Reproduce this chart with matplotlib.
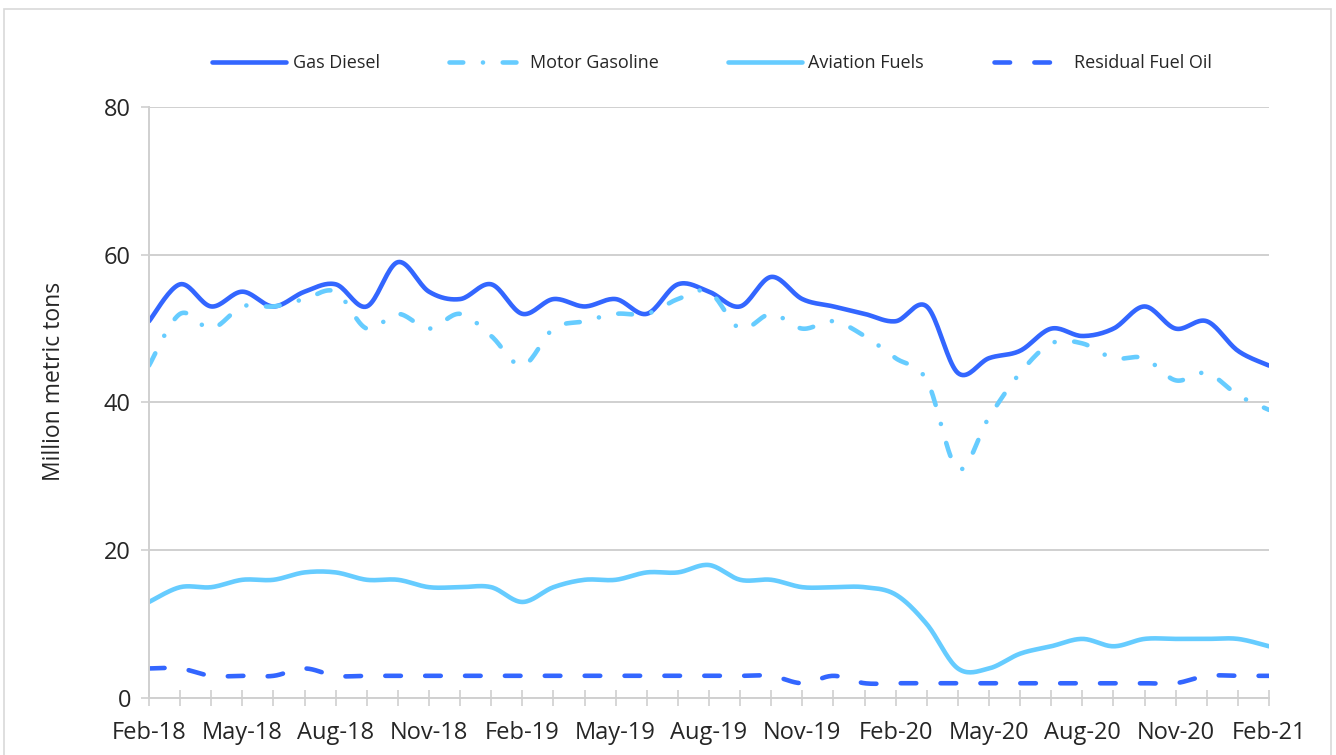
import numpy as np
import matplotlib
matplotlib.use("Agg")
import matplotlib.pyplot as plt
from matplotlib.patches import Rectangle

plt.rcParams['font.family'] = ['Open Sans', 'DejaVu Sans']

months = ["Feb-18", "Mar-18", "Apr-18", "May-18", "Jun-18", "Jul-18", "Aug-18", "Sep-18",
          "Oct-18", "Nov-18", "Dec-18", "Jan-19", "Feb-19", "Mar-19", "Apr-19", "May-19",
          "Jun-19", "Jul-19", "Aug-19", "Sep-19", "Oct-19", "Nov-19", "Dec-19", "Jan-20",
          "Feb-20", "Mar-20", "Apr-20", "May-20", "Jun-20", "Jul-20", "Aug-20", "Sep-20",
          "Oct-20", "Nov-20", "Dec-20", "Jan-21", "Feb-21"]

gas_diesel = [51, 56, 53, 55, 53, 55, 56, 53, 59, 55, 54, 56, 52, 54, 53, 54, 52, 56, 55,
              53, 57, 54, 53, 52, 51, 53, 44, 46, 47, 50, 49, 50, 53, 50, 51, 47, 45]
motor_gasoline = [45, 52, 50, 53, 53, 54, 55, 50, 52, 50, 52, 49, 45, 50, 51, 52, 52, 54, 55,
                  50, 52, 50, 51, 49, 46, 43, 31, 38, 44, 48, 48, 46, 46, 43, 44, 41, 39]
aviation_fuels = [13, 15, 15, 16, 16, 17, 17, 16, 16, 15, 15, 15, 13, 15, 16, 16, 17, 17, 18,
                  16, 16, 15, 15, 15, 14, 10, 4, 4, 6, 7, 8, 7, 8, 8, 8, 8, 7]
residual_fuel_oil = [4, 4, 3, 3, 3, 4, 3, 3, 3, 3, 3, 3, 3, 3, 3, 3, 3, 3, 3,
                     3, 3, 2, 3, 2, 2, 2, 2, 2, 2, 2, 2, 2, 2, 2, 3, 3, 3]

BLUE = "#3366FF"
LIGHT = "#66CCFF"
GRID = "#D0D0D0"
TXT = "#262626"


# Excel-like smoothed line: cubic bezier through each point (Catmull-Rom tangents)
def smooth(y, n=20):
    y = np.asarray(y, dtype=float)
    x = np.arange(len(y), dtype=float)
    xs, ys = [], []
    for i in range(len(y) - 1):
        i0, i3 = max(i - 1, 0), min(i + 2, len(y) - 1)
        c1x = x[i] + (x[i + 1] - x[i0]) / 6
        c1y = y[i] + (y[i + 1] - y[i0]) / 6
        c2x = x[i + 1] - (x[i3] - x[i]) / 6
        c2y = y[i + 1] - (y[i3] - y[i]) / 6
        t = np.linspace(0, 1, n, endpoint=(i == len(y) - 2))
        a, b, c, d = (1 - t) ** 3, 3 * (1 - t) ** 2 * t, 3 * (1 - t) * t ** 2, t ** 3
        xs.append(a * x[i] + b * c1x + c * c2x + d * x[i + 1])
        ys.append(a * y[i] + b * c1y + c * c2y + d * y[i + 1])
    return np.concatenate(xs), np.concatenate(ys)


fig = plt.figure(figsize=(13.36, 7.55), dpi=100)
ax = fig.add_axes([149 / 1336, 1 - 698 / 755, 1120 / 1336, 591 / 755])

lw = 3.3
series = [
    ("Gas Diesel", gas_diesel, BLUE, "-"),
    ("Motor Gasoline", motor_gasoline, LIGHT, (0, (3.0, 4.3, 0.01, 4.3))),
    ("Aviation Fuels", aviation_fuels, LIGHT, "-"),
    ("Residual Fuel Oil", residual_fuel_oil, BLUE, (0, (3.4, 5.3))),
]
for name, vals, col, ls in series:
    sx, sy = smooth(vals)
    ax.plot(sx, sy, color=col, lw=lw, ls=ls, label=name,
            dash_capstyle="round", solid_capstyle="round", solid_joinstyle="round")

ax.set_xlim(0, len(months) - 1)
ax.set_ylim(0, 80)
ax.set_yticks(range(0, 81, 20))
ax.set_xticks(range(len(months)))
ax.set_xticklabels([m if i % 3 == 0 else "" for i, m in enumerate(months)])
ax.yaxis.grid(True, color=GRID, lw=1.4)
ax.set_axisbelow(True)
for s in ["top", "right"]:
    ax.spines[s].set_visible(False)
for s in ["left", "bottom"]:
    ax.spines[s].set_color(GRID)
    ax.spines[s].set_linewidth(1.4)
ax.tick_params(axis="x", direction="inout", length=11, width=1.2, color=GRID,
               labelsize=17, labelcolor=TXT, pad=11)
ax.tick_params(axis="y", direction="out", length=6, width=1.2, color=GRID,
               labelsize=17, labelcolor=TXT, pad=7)
ax.set_ylabel("Million metric tons", fontsize=16.5, color=TXT)
ax.yaxis.set_label_coords(-0.074, 0.536)

leg = fig.legend(loc="center", bbox_to_anchor=(0.533, 1 - 63 / 755), ncol=4, frameon=False,
                 fontsize=13, handlelength=4.1, columnspacing=3.85, handletextpad=0.35)
for t in leg.get_texts():
    t.set_color(TXT)

fig.patches.append(Rectangle((4 / 1336, -0.05), 1327 / 1336, 1.05 - 9 / 755,
                             transform=fig.transFigure, fill=False, ec="#D9D9D9", lw=1.2))

fig.savefig("out.png", dpi=100)
